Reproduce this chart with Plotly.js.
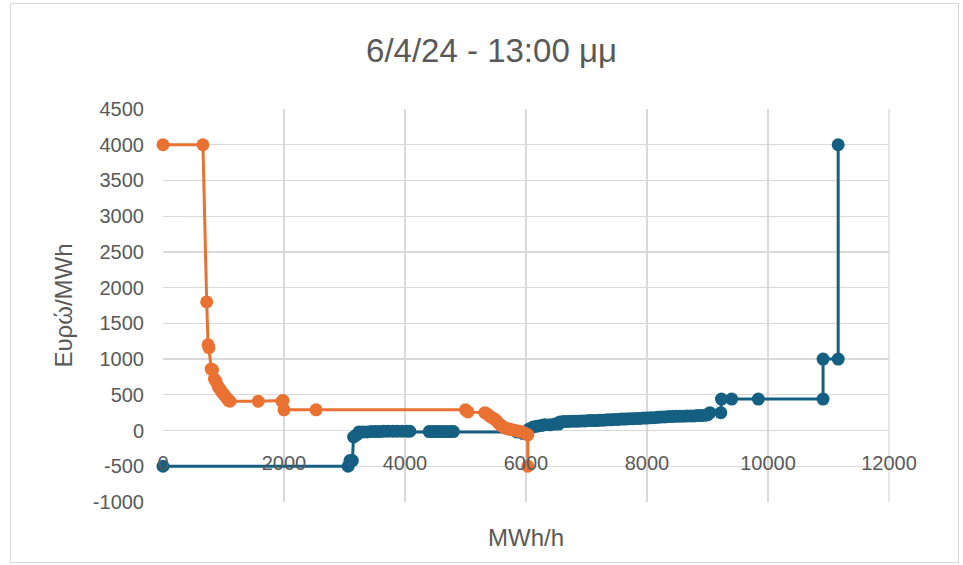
<!DOCTYPE html>
<html>
<head>
<meta charset="utf-8">
<script src="https://cdn.plot.ly/plotly-3.0.1.min.js"></script>
<style>
  html, body { margin: 0; padding: 0; background: #ffffff; }
  #chart { position: absolute; left: 0; top: 0; width: 963px; height: 565px; }
  #frame { position: absolute; left: 10px; top: 3px; width: 947px; height: 558px; border: 1px solid #d9d9d9; pointer-events: none; }
</style>
</head>
<body>
<div id="chart"></div>
<div id="frame"></div>
<script>
// Demand curve (orange)
const demandX = [0, 660, 722, 745, 760, 795, 820, 850, 880, 914, 940, 970, 1000, 1030, 1060, 1085, 1107, 1575, 1965, 1985, 2000, 2530, 5000, 5040, 5320, 5360, 5400, 5440, 5480, 5510, 5550, 5590, 5630, 5670, 5720, 5770, 5830, 5880, 5940, 5990, 6030, 6030];
const demandY = [4000, 4000, 1800, 1200, 1160, 860, 850, 720, 680, 610, 580, 540, 510, 480, 450, 420, 410, 410, 410, 420, 290, 290, 290, 260, 250, 230, 200, 180, 160, 140, 100, 70, 50, 30, 20, 10, 0, -10, -20, -40, -60, -500];

// Supply curve (blue)
const supplyX = [0, 3060, 3090, 3130, 3150, 3200, 3240, 3300, 3370, 3440, 3510, 3580, 3650, 3720, 3800, 3870, 3950, 4030, 4080, 4400, 4460, 4520, 4580, 4640, 4700, 4760, 4800, 5850, 5950, 6050, 6120, 6180, 6250, 6310, 6400, 6480, 6540, 6560, 6620, 6680, 6740, 6800, 6860, 6920, 6980, 7040, 7100, 7160, 7220, 7280, 7340, 7400, 7460, 7520, 7580, 7640, 7700, 7760, 7820, 7880, 7940, 8000, 8060, 8120, 8180, 8240, 8300, 8360, 8420, 8480, 8540, 8600, 8660, 8720, 8780, 8840, 8900, 8960, 9000, 9040, 9220, 9230, 9400, 9840, 10910, 10910, 11160, 11160];
const supplyY = [-500, -500, -420, -420, -90, -60, -20, -20, -20, -15, -15, -15, -10, -10, -10, -10, -10, -10, -10, -15, -15, -15, -15, -15, -15, -15, -15, -20, -40, 20, 50, 60, 70, 80, 80, 90, 90, 120, 125, 125, 130, 130, 130, 135, 135, 140, 140, 140, 145, 145, 150, 150, 155, 155, 160, 160, 165, 165, 170, 170, 175, 175, 180, 180, 185, 190, 190, 195, 195, 200, 200, 200, 205, 205, 205, 210, 210, 215, 220, 250, 250, 440, 440, 440, 440, 1000, 1000, 4000];

// Axis ticks
const xTickVals = [0, 2000, 4000, 6000, 8000, 10000, 12000];
const xTickText = ["0", "2000", "4000", "6000", "8000", "10000", "12000"];
const yTickVals = [-1000, -500, 0, 500, 1000, 1500, 2000, 2500, 3000, 3500, 4000, 4500];
const yTickText = ["-1000", "-500", "0", "500", "1000", "1500", "2000", "2500", "3000", "3500", "4000", "4500"];

const BLUE = "#156082";
const ORANGE = "#E97132";
const TXT = "#595959";
const GRID = "#d9d9d9";
const FONT = "Liberation Sans, Arial, sans-serif";

const traces = [
  {
    x: supplyX, y: supplyY, type: "scatter", mode: "lines+markers",
    line: { color: BLUE, width: 3 },
    marker: { color: BLUE, size: 13 },
    cliponaxis: false, showlegend: false, name: "Supply"
  },
  {
    x: demandX, y: demandY, type: "scatter", mode: "lines+markers",
    line: { color: ORANGE, width: 3 },
    marker: { color: ORANGE, size: 13 },
    cliponaxis: false, showlegend: false, name: "Demand"
  }
];

const layout = {
  width: 963, height: 565,
  margin: { l: 163, r: 74, t: 109, b: 63 },
  paper_bgcolor: "#ffffff", plot_bgcolor: "#ffffff",
  font: { family: FONT, color: TXT },
  title: {
    text: "6/4/24 - 13:00 μμ",
    font: { size: 33, color: TXT, family: FONT },
    x: 0.5104, xref: "container", xanchor: "center",
    y: 1 - 50 / 565, yref: "container", yanchor: "middle"
  },
  xaxis: {
    range: [0, 12000], autorange: false,
    tickvals: xTickVals, ticktext: xTickText,
    showgrid: true, gridcolor: GRID, gridwidth: 1.3,
    zeroline: false, showline: false, ticks: "",
    anchor: "free", position: 0.135,
    tickfont: { size: 20, color: TXT, family: FONT },
    title: { text: "MWh/h", font: { size: 24, color: TXT, family: FONT }, standoff: 56 },
    automargin: false
  },
  yaxis: {
    range: [-1000, 4500], autorange: false,
    tickvals: yTickVals, ticktext: yTickText,
    showgrid: true, gridcolor: GRID, gridwidth: 1.3,
    zeroline: false, showline: false, ticks: "",
    ticklabelstandoff: 18,
    tickfont: { size: 20, color: TXT, family: FONT },
    title: { text: "Ευρώ/MWh", font: { size: 24, color: TXT, family: FONT }, standoff: 13 },
    automargin: false
  },
  shapes: [
    { type: "line", xref: "paper", yref: "paper", x0: 1, x1: 1, y0: 0, y1: 1, line: { color: GRID, width: 1.3 }, layer: "below" }
  ]
};

Plotly.newPlot("chart", traces, layout, { displayModeBar: false, staticPlot: true });
</script>
</body>
</html>
